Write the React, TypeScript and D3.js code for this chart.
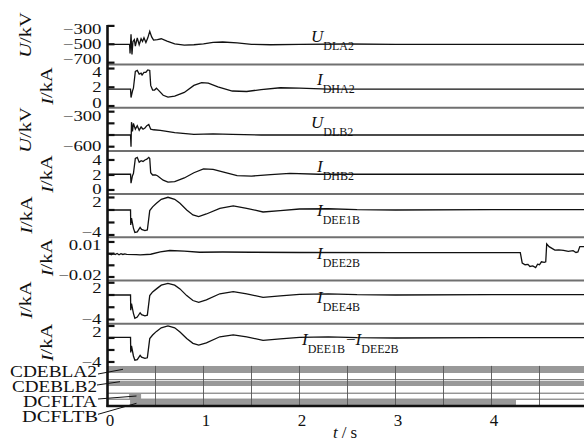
import React from "react";
import * as d3 from "d3";

// ---------------- data ----------------
const U_DLA2: [number, number][] = [
  [0, -500], [0.2, -500], [0.23, -500], [0.235, -600], [0.245, -390], [0.255, -610], [0.265, -470],
  [0.28, -450], [0.29, -520], [0.31, -430], [0.33, -505], [0.35, -440], [0.365, -470], [0.38, -430],
  [0.4, -480], [0.42, -430], [0.44, -360], [0.46, -420], [0.48, -455], [0.52, -450], [0.56, -440],
  [0.62, -465], [0.7, -495], [0.8, -510], [0.9, -505], [1.0, -495], [1.1, -480], [1.2, -475],
  [1.35, -485], [1.5, -500], [1.7, -505], [2.0, -500], [2.5, -497], [3.0, -500], [4.0, -500], [5.0, -500],
];
const I_DHA2: [number, number][] = [
  [0, 1.8], [0.2, 1.8], [0.24, 1.8], [0.245, 0.9], [0.26, 1.6], [0.27, 1.9], [0.29, 3.7], [0.31, 3.8],
  [0.33, 3.4], [0.35, 3.5], [0.36, 3.3], [0.38, 3.6], [0.4, 3.6], [0.42, 3.85], [0.44, 3.8], [0.45, 2.2],
  [0.47, 1.7], [0.49, 1.7], [0.51, 1.9], [0.53, 1.7], [0.58, 1.15], [0.63, 0.95], [0.7, 1.05], [0.8, 1.45],
  [0.9, 2.2], [0.98, 2.5], [1.05, 2.45], [1.15, 2.05], [1.3, 1.6], [1.45, 1.55], [1.6, 1.75], [1.8, 1.95],
  [2.0, 1.9], [2.3, 1.8], [3.0, 1.8], [5.0, 1.8],
];
const U_DLB2: [number, number][] = [
  [0, -500], [0.24, -500], [0.245, -600], [0.25, -390], [0.26, -470], [0.27, -400], [0.29, -450],
  [0.31, -420], [0.33, -460], [0.35, -430], [0.37, -450], [0.39, -440], [0.41, -420], [0.43, -410],
  [0.45, -450], [0.48, -455], [0.55, -460], [0.7, -480], [0.9, -495], [1.1, -490], [1.3, -495],
  [1.6, -500], [5.0, -500],
];
const I_DHB2: [number, number][] = [
  [0, 2.1], [0.24, 2.1], [0.245, 0.9], [0.26, 1.9], [0.27, 2.2], [0.29, 4.2], [0.31, 4.35], [0.33, 3.7],
  [0.35, 3.9], [0.37, 3.8], [0.39, 4.0], [0.41, 4.1], [0.43, 4.35], [0.44, 4.2], [0.45, 2.3], [0.47, 2.0],
  [0.5, 2.0], [0.52, 1.9], [0.58, 1.3], [0.63, 1.05], [0.7, 1.1], [0.8, 1.6], [0.9, 2.3], [1.0, 2.8],
  [1.1, 2.75], [1.2, 2.4], [1.35, 1.9], [1.5, 1.85], [1.7, 2.05], [1.9, 2.2], [2.2, 2.1], [5.0, 2.1],
];
const I_DEE1B: [number, number][] = [
  [0, 0], [0.24, 0], [0.242, -2.4], [0.25, -1.3], [0.27, -2.9], [0.285, -3.6], [0.31, -3.5],
  [0.34, -2.8], [0.355, -3.1], [0.39, -3.3], [0.415, -3.2], [0.44, -0.1], [0.47, 0.5], [0.51, 1.07],
  [0.56, 1.7], [0.63, 2.03], [0.7, 1.7], [0.755, 1.07], [0.825, 0], [0.89, -0.8], [0.95, -1.07],
  [1.03, -0.64], [1.17, 0.27], [1.31, 0.64], [1.45, 0.27], [1.62, -0.32], [1.8, -0.1], [2.0, 0.16],
  [2.3, 0.2], [2.6, 0.05], [3.0, 0.0], [4.0, 0.05], [5.0, 0.05],
];
const I_DEE2B: [number, number][] = [
  [0, -0.0003], [0.02, 0.0], [0.04, -0.001], [0.06, 0.0002], [0.08, -0.0008], [0.1, 0.0001],
  [0.12, -0.0009], [0.14, 0.0], [0.16, -0.0007], [0.18, -0.0002], [0.2, -0.0006], [0.3, -0.0008],
  [0.34, -0.001], [0.45, -0.0005], [0.55, 0.0015], [0.65, 0.0027], [0.8, 0.0022], [0.96, 0.0012],
  [1.2, 0.0014], [1.5, 0.0012], [2.0, 0.001], [3.0, 0.0009], [4.3, 0.0009], [4.32, -0.008],
  [4.35, -0.0095], [4.38, -0.0092], [4.4, -0.011], [4.43, -0.0105], [4.46, -0.012], [4.48, -0.009],
  [4.5, -0.0095], [4.52, -0.007], [4.55, -0.0075], [4.565, -0.007], [4.575, 0.0083], [4.6, 0.006],
  [4.63, 0.0045], [4.66, 0.003], [4.7, 0.0032], [4.75, 0.0028], [4.8, 0.002], [4.85, 0.0025],
  [4.88, 0.001], [4.9, 0.0015], [4.92, 0.006], [5.0, 0.006],
];
const I_DEE4B: [number, number][] = [
  [0, 0], [0.24, 0], [0.242, -2.5], [0.25, -1.4], [0.27, -3.0], [0.285, -3.8], [0.31, -3.6],
  [0.34, -2.9], [0.355, -3.2], [0.39, -3.4], [0.415, -3.3], [0.44, -0.1], [0.47, 0.5], [0.51, 1.0],
  [0.56, 1.6], [0.63, 1.9], [0.7, 1.6], [0.755, 1.0], [0.825, -0.1], [0.89, -0.9], [0.95, -1.2],
  [1.03, -0.8], [1.17, 0.2], [1.31, 0.54], [1.45, 0.2], [1.62, -0.4], [1.8, -0.15], [2.0, 0.1],
  [2.3, 0.2], [2.6, 0.05], [3.0, 0.0], [4.0, 0.05], [5.0, 0.05],
];
const I_DIFF: [number, number][] = [
  [0, 0.1], [0.24, 0.1], [0.242, -2.4], [0.25, -1.3], [0.27, -3.0], [0.285, -3.7], [0.31, -3.6],
  [0.34, -2.9], [0.355, -3.2], [0.39, -3.4], [0.415, -3.3], [0.44, -0.1], [0.47, 0.5], [0.51, 1.1],
  [0.56, 1.7], [0.63, 2.0], [0.7, 1.7], [0.755, 1.0], [0.825, -0.1], [0.89, -0.9], [0.95, -1.2],
  [1.03, -0.8], [1.17, 0.2], [1.31, 0.5], [1.45, 0.2], [1.62, -0.4], [1.8, -0.15], [2.0, 0.1],
  [2.3, 0.2], [2.6, 0.05], [3.0, 0.0], [4.0, 0.05], [5.0, 0.05],
];

const PANEL_DOMAINS: [number, number][] = [
  [-720, -250], [-0.18, 4.43], [-636, -266], [-0.55, 5.21],
  [-4.37, 2.54], [-0.023, 0.014], [-4.69, 2.37], [-4.82, 2.38],
];
const PANEL_TICKS: number[][] = [
  [-300, -500, -700], [4, 2, 0], [-300, -400, -500, -600], [4, 2, 0],
  [2, 0, -2, -4], [0.01, 0, -0.01, -0.02], [2, 0, -2, -4], [2, 0, -2, -4],
];
const PANEL_TICK_LABELS: number[][] = [
  [-300, -500, -700], [4, 2, 0], [-300, -600], [4, 2, 0],
  [2, -4], [0.01, -0.02], [2, -4], [2, -4],
];
const PANEL_UNITS: [string, string][] = [
  ["U", "/kV"], ["I", "/kA"], ["U", "/kV"], ["I", "/kA"],
  ["I", "/kA"], ["I", "/kA"], ["I", "/kA"], ["I", "/kA"],
];
const SERIES = [U_DLA2, I_DHA2, U_DLB2, I_DHB2, I_DEE1B, I_DEE2B, I_DEE4B, I_DIFF];
const SERIES_NAMES: [string, string][] = [
  ["U", "DLA2"], ["I", "DHA2"], ["U", "DLB2"], ["I", "DHB2"],
  ["I", "DEE1B"], ["I", "DEE2B"], ["I", "DEE4B"], ["I", "DEE1B"],
];

const DIGITAL_NAMES = ["CDEBLA2", "CDEBLB2", "DCFLTA", "DCFLTB"];
const DIGITAL_ON: [number, number][][] = [
  [[0, 5]], [[0, 5]], [[0.225, 0.35]], [[0.235, 4.255]],
];
const X_TICKS = [0, 1, 2, 3, 4];
const GRID_T = [0.5, 1, 1.5, 2, 2.5, 3, 3.5, 4, 4.5];

// ---------------- layout ----------------
const W = 584;
const H = 443;
const FONT = "'Liberation Serif', 'Times New Roman', Times, serif";
const AX_X = 107.5;
const PANEL_TOP0 = 21.3;
const PANEL_H = 43.2;
const DIG_TOP = PANEL_TOP0 + PANEL_H * 8; // 366.9
const AXIS_Y = 406;
const xScale = d3.scaleLinear().domain([0, 5]).range([AX_X, AX_X + 480]);

const UNIT_POS: [number, number][] = [
  [25, 35], [46.5, 86], [25, 130], [46.5, 174], [26, 215], [46.5, 257.5], [25.5, 300], [46.5, 342.5],
];
const NAME_POS: [number, number][] = [
  [311, 42], [317, 85], [311, 128], [317, 172], [317, 216], [317, 259], [317, 303], [302, 345],
];
const DIG_BARS: [number, number][] = [[366, 373], [381, 386], [393.7, 399.3], [400, 405.3]];
const DIG_LINES = [379.7, 393.2, 399.2];
const DIG_LABEL: { x: number; base: number; len: number; lead: [number, number, number, number] }[] = [
  { x: 10, base: 377, len: 87, lead: [98, 374, 123, 369.3] },
  { x: 12, base: 392, len: 85, lead: [97, 385, 120, 381.7] },
  { x: 23, base: 406.5, len: 74, lead: [98, 399, 136.5, 396] },
  { x: 22, base: 421.5, len: 76, lead: [98, 414.3, 136.5, 403.3] },
];

const fmt = (v: number) => {
  const s = Math.abs(v) < 1 && v !== 0 ? Math.abs(v).toFixed(2) : String(Math.abs(v));
  return (v < 0 ? "\u2212" : "") + s;
};

const TXT = { fontFamily: FONT } as React.CSSProperties;

export default function App() {
  const panels = SERIES.map((data, i) => {
    const top = PANEL_TOP0 + PANEL_H * i;
    const bottom = top + PANEL_H;
    const y = d3.scaleLinear().domain(PANEL_DOMAINS[i]).range([bottom, top]);
    const line = d3
      .line<[number, number]>()
      .x((d) => xScale(d[0]))
      .y((d) => y(d[1]));
    return { i, top, bottom, y, path: line(data) || "" };
  });

  return (
    <svg
      width={W}
      height={H}
      viewBox={`0 0 ${W} ${H}`}
      style={{ position: "absolute", left: 0, top: 0, background: "#fff", fontFamily: FONT }}
    >
      <rect x={0} y={0} width={W} height={H} fill="#fff" />
      <defs>
        <clipPath id="plotclip">
          <rect x={AX_X} y={0} width={W - AX_X} height={H} />
        </clipPath>
      </defs>

      {/* digital area */}
      {DIG_LINES.map((yy, k) => (
        <line key={"dl" + k} x1={AX_X} x2={W} y1={yy} y2={yy} stroke="#555" strokeWidth={0.9} />
      ))}
      {DIGITAL_ON.map((ivs, r) =>
        ivs.map((iv, k) => (
          <rect
            key={"db" + r + "_" + k}
            x={xScale(iv[0])}
            y={DIG_BARS[r][0]}
            width={Math.min(xScale(iv[1]), W) - xScale(iv[0])}
            height={DIG_BARS[r][1] - DIG_BARS[r][0]}
            fill="#999"
          />
        ))
      )}
      {GRID_T.map((t) => (
        <line key={"g" + t} x1={xScale(t)} x2={xScale(t)} y1={DIG_TOP - 1} y2={AXIS_Y} stroke="#555" strokeWidth={0.9} />
      ))}

      {/* panels */}
      {panels.map((p) => (
        <g key={"p" + p.i}>
          {p.i < 7 && (
            <line x1={AX_X} x2={W} y1={p.bottom} y2={p.bottom} stroke="#707070" strokeWidth={2} />
          )}
          <path d={p.path} fill="none" stroke="#111" strokeWidth={1.3} clipPath="url(#plotclip)" />
          {PANEL_TICKS[p.i].map((v) => (
            <line key={"t" + v} x1={AX_X} x2={AX_X + 7} y1={p.y(v)} y2={p.y(v)} stroke="#111" strokeWidth={2.2} />
          ))}
          {PANEL_TICK_LABELS[p.i].map((v) => {
            const yy = Math.max(p.top + 8, Math.min(p.bottom - 5, p.y(v)));
            return (
              <text
                key={"l" + v}
                transform={`translate(${AX_X - 6},${yy}) scale(1.25,1)`}
                textAnchor="end"
                dominantBaseline="central"
                fontSize={15}
                fill="#111"
                style={TXT}
              >
                {fmt(v)}
              </text>
            );
          })}
          <text
            transform={`translate(${UNIT_POS[p.i][0]},${UNIT_POS[p.i][1]}) rotate(-90) scale(1.2,1)`}
            textAnchor="middle"
            dominantBaseline="central"
            fontSize={17}
            fill="#111"
            style={TXT}
          >
            <tspan fontStyle="italic">{PANEL_UNITS[p.i][0]}</tspan>
            {PANEL_UNITS[p.i][1]}
          </text>
          <text x={NAME_POS[p.i][0]} y={NAME_POS[p.i][1]} fontSize={17} fill="#111" style={TXT}>
            <tspan fontStyle="italic">{SERIES_NAMES[p.i][0]}</tspan>
            <tspan fontSize={12} dy={8}>{SERIES_NAMES[p.i][1]}</tspan>
            {p.i === 7 && (
              <>
                <tspan dy={-8} dx={1}>{"\u2212"}</tspan>
                <tspan fontStyle="italic">I</tspan>
                <tspan fontSize={12} dy={8}>DEE2B</tspan>
              </>
            )}
          </text>
        </g>
      ))}

      {/* axes */}
      <line x1={AX_X} x2={AX_X} y1={25} y2={AXIS_Y + 1} stroke="#111" strokeWidth={2.6} />
      <line x1={AX_X - 1} x2={W} y1={AXIS_Y} y2={AXIS_Y} stroke="#111" strokeWidth={2.6} />
      {X_TICKS.map((t) => (
        <text key={"x" + t} x={xScale(t) + 2.5} y={426} textAnchor="middle" fontSize={17} fill="#111" style={TXT}>
          {t}
        </text>
      ))}
      <text x={345} y={438} textAnchor="middle" fontSize={17} fill="#111" textLength={24} lengthAdjust="spacing" style={TXT}>
        <tspan fontStyle="italic">t</tspan>/s
      </text>

      {/* digital labels */}
      {DIGITAL_NAMES.map((n, k) => (
        <g key={"dn" + n}>
          <text
            x={DIG_LABEL[k].x}
            y={DIG_LABEL[k].base}
            fontSize={17.5}
            fill="#111"
            textLength={DIG_LABEL[k].len}
            lengthAdjust="spacingAndGlyphs"
            style={TXT}
          >
            {n}
          </text>
          <line
            x1={DIG_LABEL[k].lead[0]}
            y1={DIG_LABEL[k].lead[1]}
            x2={DIG_LABEL[k].lead[2]}
            y2={DIG_LABEL[k].lead[3]}
            stroke="#111"
            strokeWidth={1}
          />
        </g>
      ))}
    </svg>
  );
}
